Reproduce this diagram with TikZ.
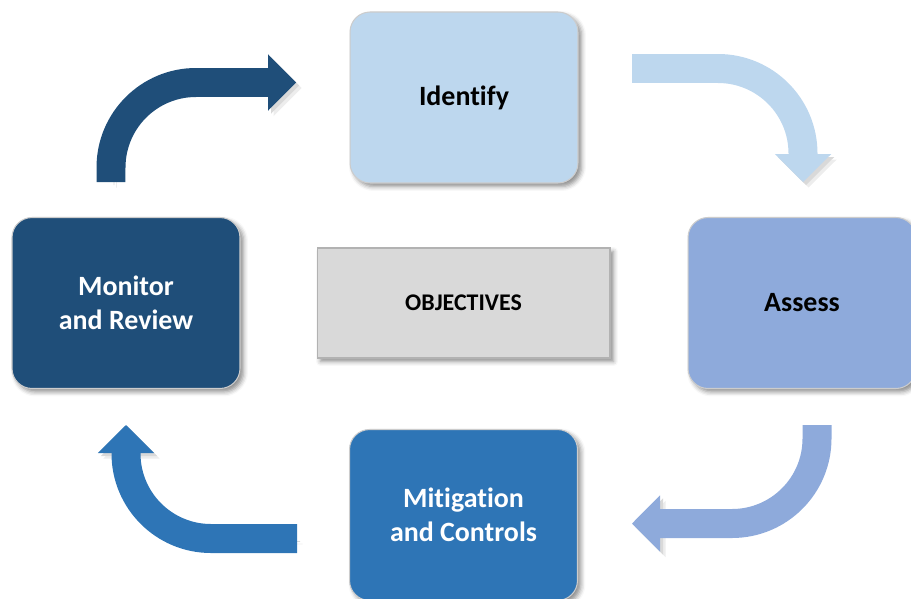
\documentclass[tikz,border=0pt]{standalone}
\usepackage{fontspec}
\setmainfont{Carlito}[Ligatures={NoCommon}]
\usepackage{tikz}
\usetikzlibrary{arrows.meta,shadows.blur}

\definecolor{idfill}{HTML}{BDD7EE}
\definecolor{asfill}{HTML}{8EAADB}
\definecolor{mcfill}{HTML}{2E75B6}
\definecolor{mrfill}{HTML}{1F4E79}
\definecolor{objfill}{HTML}{D9D9D9}

\begin{document}
\begin{tikzpicture}[x=0.02cm,y=-0.02cm, every node/.style={font=\bfseries\fontsize{15.9pt}{19.3pt}\selectfont,align=center}, stage/.style={draw=black!20,line width=0.6pt,rounded corners=4mm,minimum width=45.6mm,minimum height=34.2mm,blur shadow={shadow xshift=0.7mm,shadow yshift=-0.7mm,shadow blur radius=0.9mm,shadow opacity=45}}, goal/.style={draw=black!30,line width=0.6pt,fill=objfill,minimum width=58.6mm,minimum height=22mm,font=\bfseries\fontsize{13.6pt}{16pt}\selectfont,blur shadow={shadow xshift=0.7mm,shadow yshift=-0.7mm,shadow blur radius=0.9mm,shadow opacity=45}}, loop/.style={line width=5.8mm,rounded corners=17mm,-{Triangle[width=11.3mm,length=5.6mm,line width=0pt]},preaction={draw=black!7,transform canvas={shift={(1.1mm,-1.1mm)}}},preaction={draw=black!15,transform canvas={shift={(0.6mm,-0.6mm)}}}}]
\useasboundingbox (0,0) rectangle (911,598);
\node[stage,fill=idfill] (identify) at (464,97.5) {Identify};
\node[stage,fill=asfill] (assess) at (802,303) {Assess};
\node[stage,fill=mcfill,text=white] (mitigate) at (463.5,515) {Mitigation\\and Controls};
\node[stage,fill=mrfill,text=white] (monitor) at (126,303) {Monitor\\and Review};
\node[goal] (goals) at (463.5,303) {OBJECTIVES};
% free ends of the bent arrows
\coordinate (id-out) at (632,68.5); \coordinate (as-in) at (803,182);
\coordinate (as-out) at (817,425); \coordinate (mc-in) at (632,523.5);
\coordinate (mc-out) at (297,538.5); \coordinate (mr-in) at (126,425);
\coordinate (mr-out) at (111,182); \coordinate (id-in) at (296,82.5);
\draw[loop,idfill] (id-out) -| (as-in); \draw[loop,asfill] (as-out) |- (mc-in);
\draw[loop,mcfill] (mc-out) -| (mr-in); \draw[loop,mrfill] (mr-out) |- (id-in);
\end{tikzpicture}
\end{document}
